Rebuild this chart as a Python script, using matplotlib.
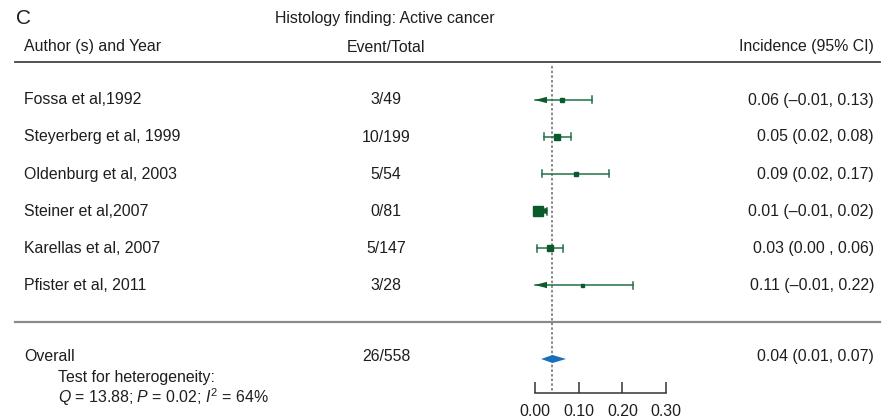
"""Forest plot: incidence of active cancer on histology after RPLND."""

import matplotlib.pyplot as plt
from matplotlib.patches import Polygon

plt.rcParams["font.family"] = ["Liberation Sans", "DejaVu Sans"]
plt.rcParams["mathtext.fontset"] = "custom"
plt.rcParams["mathtext.rm"] = "Liberation Sans"
plt.rcParams["mathtext.it"] = "Liberation Sans:italic"

# ---- data -------------------------------------------------------------
authors = [
    "Fossa et al,1992",
    "Steyerberg et al, 1999",
    "Oldenburg et al, 2003",
    "Steiner et al,2007",
    "Karellas et al, 2007",
    "Pfister et al, 2011",
]
event_total = ["3/49", "10/199", "5/54", "0/81", "5/147", "3/28"]
incidence = [0.061, 0.051, 0.094, 0.007, 0.034, 0.108]
ci_low = [-0.01, 0.02, 0.015, -0.01, 0.005, -0.01]
ci_high = [0.13, 0.082, 0.17, 0.027, 0.063, 0.224]
weights = [4.0, 6.5, 4.0, 9.5, 6.0, 3.0]  # square side, px
ci_labels = [
    "0.06 (\u20130.01, 0.13)",
    "0.05 (0.02, 0.08)",
    "0.09 (0.02, 0.17)",
    "0.01 (\u20130.01, 0.02)",
    "0.03 (0.00 , 0.06)",
    "0.11 (\u20130.01, 0.22)",
]

overall_est = 0.04
overall_low = 0.014
overall_high = 0.071
overall_label = "0.04 (0.01, 0.07)"
overall_total = "26/558"
heterogeneity = "$Q$ = 13.88; $P$ = 0.02; $I^2$ = 64%"

axis_ticks = [0.0, 0.1, 0.2, 0.3]
axis_ticklabels = ["0.00", "0.10", "0.20", "0.30"]

# ---- layout (pixels of the 884x419 canvas) ----------------------------
W, H = 884, 419
X0_PX, PX_PER_UNIT = 535, 437
ROW0_PX, ROW_PX = 100, 37

green_dark = "#0b5a2c"
green_line = "#22714a"
blue = "#1a6fba"
text_col = "#1e1e1e"


def py(pixel):
    """Pixel row -> data y."""
    return (pixel - ROW0_PX) / ROW_PX


fig = plt.figure(figsize=(W / 100, H / 100), dpi=100)
ax = fig.add_axes([0, 0, 1, 1])
ax.set_xlim(-X0_PX / PX_PER_UNIT, (W - X0_PX) / PX_PER_UNIT)
ax.set_ylim(py(H), py(0))
ax.axis("off")

xt = ax.get_yaxis_transform()  # x in figure fraction, y in data
fs = 11.4

# headers
fig.text(16 / W, 1 - 19 / H, "C", fontsize=15, va="center", color=text_col)
fig.text(275 / W, 1 - 18 / H, "Histology finding: Active cancer",
         fontsize=fs, va="center", color=text_col)
ax.text(24 / W, py(47), "Author (s) and Year", transform=xt, fontsize=fs,
        va="center", color=text_col)
ax.text(386 / W, py(47), "Event/Total", transform=xt, fontsize=fs,
        va="center", ha="center", color=text_col)
ax.text(874 / W, py(47), "Incidence (95% CI)", transform=xt, fontsize=fs,
        va="center", ha="right", color=text_col)

ax.plot([15 / W, 880 / W], [py(62), py(62)], transform=xt, color="#444444", lw=1.3)
ax.plot([15 / W, 880 / W], [py(322), py(322)], transform=xt, color="#8a8a8a", lw=1.6)

# pooled estimate reference line
ax.plot([overall_est, overall_est], [py(66), py(392)], color="#8a8a8a",
        lw=1.4, ls=(0, (1.3, 1.1)), zorder=1)

# studies
arrow_len = 12 / PX_PER_UNIT
arrow_half = 3.2 / ROW_PX
cap_half = 3.5 / ROW_PX
for i, (name, et, est, lo, hi, w, lab) in enumerate(
        zip(authors, event_total, incidence, ci_low, ci_high, weights, ci_labels)):
    ax.text(24 / W, i, name, transform=xt, fontsize=fs, va="center", color=text_col)
    ax.text(386 / W, i, et, transform=xt, fontsize=fs, va="center", ha="center",
            color=text_col)
    ax.text(874 / W, i, lab, transform=xt, fontsize=fs, va="center", ha="right",
            color=text_col)

    left = max(lo, 0.0)
    ax.plot([left, hi], [i, i], color=green_line, lw=1.1, zorder=2)
    ax.plot([hi, hi], [i - cap_half, i + cap_half], color=green_line, lw=1.1, zorder=2)
    if lo < 0:
        ax.add_patch(Polygon([(left, i), (left + arrow_len, i - arrow_half),
                              (left + arrow_len, i + arrow_half)],
                             closed=True, color=green_dark, zorder=3, lw=0))
    else:
        ax.plot([lo, lo], [i - cap_half, i + cap_half], color=green_line, lw=1.1,
                zorder=2)
    ax.plot(est, i, marker="s", ms=w * 0.72, color=green_dark, mec=green_dark,
            zorder=4)

# overall
yo = py(359)
ax.add_patch(Polygon([(overall_low, yo), (overall_est, yo - 4 / ROW_PX),
                      (overall_high, yo), (overall_est, yo + 4 / ROW_PX)],
                     closed=True, color=blue, lw=0, zorder=4))
ax.text(24 / W, py(356), "Overall", transform=xt, fontsize=fs, va="center",
        color=text_col)
ax.text(386 / W, py(356), overall_total, transform=xt, fontsize=fs, va="center",
        ha="center", color=text_col)
ax.text(874 / W, py(356), overall_label, transform=xt, fontsize=fs, va="center",
        ha="right", color=text_col)
ax.text(58 / W, py(377), "Test for heterogeneity:", transform=xt, fontsize=fs,
        va="center", color=text_col)
ax.text(58 / W, py(397), heterogeneity, transform=xt, fontsize=fs,
        va="center", color=text_col)

# incidence scale
scale_w = (axis_ticks[-1] - axis_ticks[0]) * PX_PER_UNIT
sax = fig.add_axes([X0_PX / W, (H - 393) / H, scale_w / W, 0.05])
sax.patch.set_visible(False)
sax.set_xlim(axis_ticks[0], axis_ticks[-1])
for side in ("top", "left", "right"):
    sax.spines[side].set_visible(False)
sax.spines["bottom"].set_color("#333333")
sax.spines["bottom"].set_linewidth(1.1)
sax.set_yticks([])
sax.set_xticks(axis_ticks)
sax.set_xticklabels(axis_ticklabels)
sax.tick_params(axis="x", direction="in", length=8, width=1.1, color="#333333",
                labelsize=fs, pad=8, labelcolor=text_col)

fig.savefig("out.png", dpi=100)
